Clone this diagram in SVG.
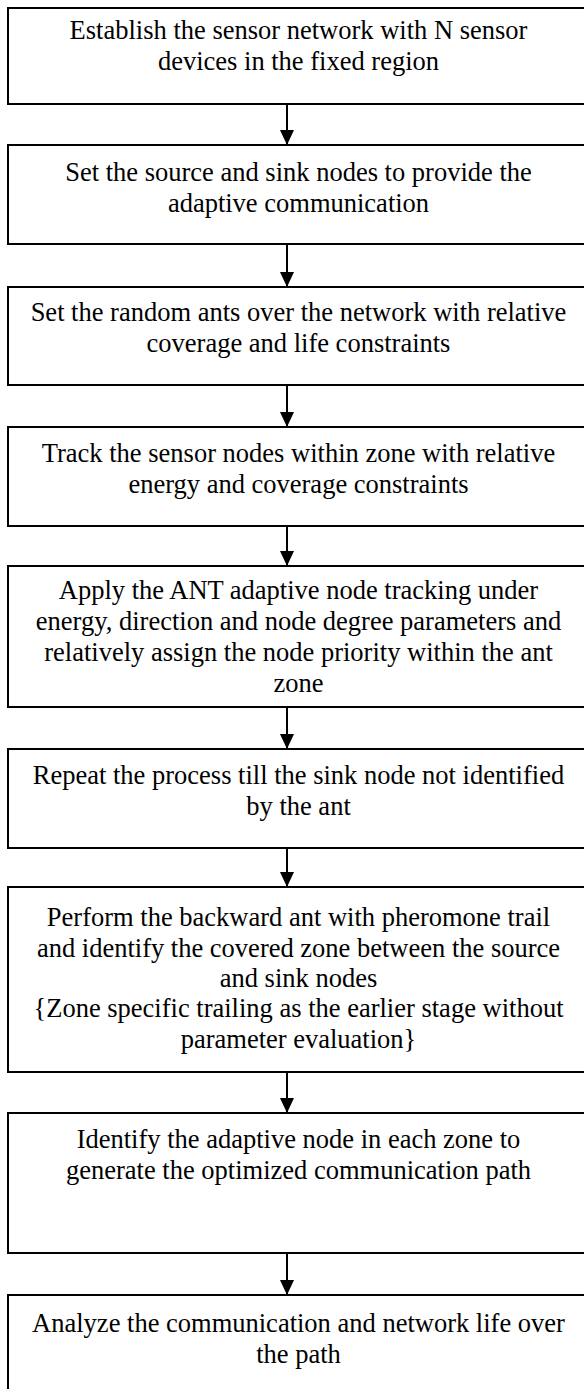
<svg xmlns="http://www.w3.org/2000/svg" width="584" height="1389" viewBox="0 0 584 1389">
<style>
.box{fill:#fff;stroke:#000;stroke-width:2}
.t{font-family:"Liberation Serif","Times New Roman",serif;font-size:26.5px;fill:#000;text-anchor:middle}
.c{stroke:#000;stroke-width:2;fill:none}
</style>
<defs>
<marker id="ah" viewBox="0 0 15 14" markerWidth="15" markerHeight="14" refX="15" refY="7" orient="auto" markerUnits="userSpaceOnUse">
<path d="M0,0 L15,7 L0,14 Z" fill="#000"/>
</marker>
</defs>
<rect width="584" height="1389" fill="#fff"/>
<g id="n1"><rect class="box" x="8" y="8" width="584" height="96"/>
<text class="t" x="298.5" y="39">Establish the sensor network with N sensor</text>
<text class="t" x="298.5" y="70">devices in the fixed region</text></g>
<g id="n2"><rect class="box" x="8" y="145" width="584" height="99"/>
<text class="t" x="298.5" y="181">Set the source and sink nodes to provide the</text>
<text class="t" x="298.5" y="212">adaptive communication</text></g>
<g id="n3"><rect class="box" x="8" y="287" width="584" height="98"/>
<text class="t" x="298.5" y="321">Set the random ants over the network with relative</text>
<text class="t" x="298.5" y="352">coverage and life constraints</text></g>
<g id="n4"><rect class="box" x="8" y="427" width="584" height="99"/>
<text class="t" x="298.5" y="462">Track the sensor nodes within zone with relative</text>
<text class="t" x="298.5" y="493">energy and coverage constraints</text></g>
<g id="n5"><rect class="box" x="8" y="566" width="584" height="141"/>
<text class="t" x="298.5" y="599">Apply the ANT adaptive node tracking under</text>
<text class="t" x="298.5" y="630">energy, direction and node degree parameters and</text>
<text class="t" x="298.5" y="661">relatively assign the node priority within the ant</text>
<text class="t" x="298.5" y="692">zone</text></g>
<g id="n6"><rect class="box" x="8" y="749" width="584" height="99"/>
<text class="t" x="298.5" y="784">Repeat the process till the sink node not identified</text>
<text class="t" x="298.5" y="815">by the ant</text></g>
<g id="n7"><rect class="box" x="8" y="887" width="584" height="185"/>
<text class="t" x="298.5" y="926">Perform the backward ant with pheromone trail</text>
<text class="t" x="298.5" y="957">and identify the covered zone between the source</text>
<text class="t" x="298.5" y="987">and sink nodes</text>
<text class="t" x="298.5" y="1017">{Zone specific trailing as the earlier stage without</text>
<text class="t" x="298.5" y="1048">parameter evaluation}</text></g>
<g id="n8"><rect class="box" x="8" y="1113" width="584" height="140"/>
<text class="t" x="298.5" y="1148">Identify the adaptive node in each zone to</text>
<text class="t" x="298.5" y="1179">generate the optimized communication path</text></g>
<g id="n9"><rect class="box" x="8" y="1295" width="584" height="110"/>
<text class="t" x="298.5" y="1332">Analyze the communication and network life over</text>
<text class="t" x="298.5" y="1363">the path</text></g>
<g id="connectors">
<line class="c" x1="287" y1="104" x2="287" y2="145" marker-end="url(#ah)"/>
<line class="c" x1="287" y1="244" x2="287" y2="287" marker-end="url(#ah)"/>
<line class="c" x1="287" y1="385" x2="287" y2="427" marker-end="url(#ah)"/>
<line class="c" x1="287" y1="526" x2="287" y2="566" marker-end="url(#ah)"/>
<line class="c" x1="287" y1="707" x2="287" y2="749" marker-end="url(#ah)"/>
<line class="c" x1="287" y1="848" x2="287" y2="887" marker-end="url(#ah)"/>
<line class="c" x1="287" y1="1072" x2="287" y2="1113" marker-end="url(#ah)"/>
<line class="c" x1="287" y1="1253" x2="287" y2="1295" marker-end="url(#ah)"/>
</g>
</svg>
